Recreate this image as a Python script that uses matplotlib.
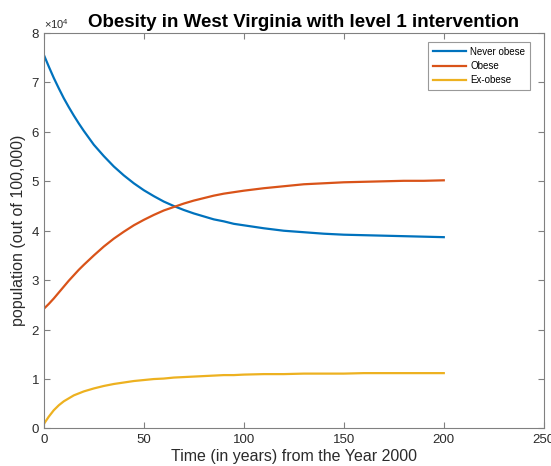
"""Obesity model for West Virginia under a level 1 intervention.

Three compartments (never obese / obese / ex-obese) out of a population
of 100,000, simulated over 200 years starting in 2000.
"""

import matplotlib

matplotlib.use("Agg")
import matplotlib.pyplot as plt
from matplotlib.ticker import ScalarFormatter

plt.rcParams["font.family"] = ["Liberation Sans", "DejaVu Sans"]
plt.rcParams["mathtext.fontset"] = "custom"
plt.rcParams["mathtext.rm"] = "Liberation Sans"

# Model output: every 2.5 years early on, then coarser once it flattens.
years = [0, 2.5, 5, 7.5, 10, 12.5, 15, 17.5, 20, 25, 30, 35, 40, 45, 50,
         55, 60, 65, 70, 75, 80, 85, 90, 95, 100, 110, 120, 130, 140, 150,
         160, 170, 180, 190, 200]

never_obese = [75600, 73200, 70900, 68800, 66800, 65000, 63300, 61700,
               60200, 57400, 55100, 53000, 51200, 49600, 48200, 47000,
               45900, 45000, 44200, 43500, 42900, 42300, 41900, 41400,
               41100, 40500, 40000, 39700, 39400, 39200, 39100, 39000,
               38900, 38800, 38700]

obese = [24200, 25200, 26300, 27500, 28700, 29900, 31000, 32100, 33100,
         35000, 36800, 38400, 39800, 41100, 42200, 43200, 44100, 44800,
         45500, 46100, 46600, 47100, 47500, 47800, 48100, 48600, 49000,
         49400, 49600, 49800, 49900, 50000, 50100, 50100, 50200]

ex_obese = [900, 2400, 3700, 4700, 5500, 6100, 6700, 7100, 7500, 8100,
            8600, 9000, 9300, 9600, 9800, 10000, 10100, 10300, 10400,
            10500, 10600, 10700, 10800, 10800, 10900, 11000, 11000, 11100,
            11100, 11100, 11200, 11200, 11200, 11200, 11200]

series = [
    ("Never obese", never_obese, "#0072BD"),
    ("Obese", obese, "#D95319"),
    ("Ex-obese", ex_obese, "#EDB120"),
]

AXIS_GREY = "#808080"
TEXT_GREY = "#2b2b2b"

fig = plt.figure(figsize=(5.51, 4.66), dpi=100)
ax = fig.add_axes([0.0795, 0.0805, 0.9074, 0.8487])

for label, values, colour in series:
    ax.plot(years, values, color=colour, linewidth=1.6, label=label)

ax.set_xlim(0, 250)
ax.set_ylim(0, 80000)
ax.set_xticks([0, 50, 100, 150, 200, 250])
ax.set_yticks(range(0, 80001, 10000))

fmt = ScalarFormatter(useMathText=True)
fmt.set_powerlimits((0, 0))
ax.yaxis.set_major_formatter(fmt)
ax.yaxis.get_offset_text().set_fontsize(8)
ax.yaxis.get_offset_text().set_color("#555555")

for side in ax.spines.values():
    side.set_color(AXIS_GREY)
    side.set_linewidth(0.8)
ax.tick_params(direction="in", length=4, width=0.8, color=AXIS_GREY,
               labelsize=9.5, labelcolor=TEXT_GREY, pad=3,
               top=True, right=True)
ax.tick_params(axis="x", pad=4)

ax.set_xlabel("Time (in years) from the Year 2000", fontsize=11.5,
              color=TEXT_GREY, labelpad=2)
ax.set_ylabel("population (out of 100,000)", fontsize=11.5,
              color=TEXT_GREY, labelpad=3)
ax.set_title("Obesity in West Virginia with level 1 intervention",
             fontsize=13.5, fontweight="bold", pad=4, x=0.52)

leg = ax.legend(loc="upper right", fontsize=7, frameon=True,
                fancybox=False, handlelength=3.4, handletextpad=0.4,
                borderpad=0.5, labelspacing=0.45,
                bbox_to_anchor=(0.982, 0.99))
leg.get_frame().set_edgecolor(AXIS_GREY)
leg.get_frame().set_linewidth(0.8)

fig.savefig("out.png", dpi=100)
